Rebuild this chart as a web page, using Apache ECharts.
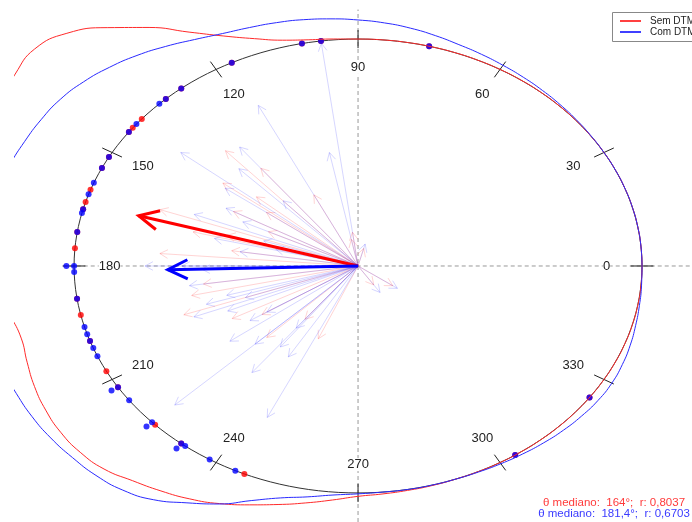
<!DOCTYPE html>
<html>
<head>
<meta charset="utf-8">
<script src="https://cdn.jsdelivr.net/npm/echarts@6/dist/echarts.min.js"></script>
<style>
html, body { margin: 0; padding: 0; background: #fff; }
#main { width: 692px; height: 522px; }
</style>
</head>
<body>
<div id="main"></div>
<script>
// observations (degrees), stack level on the circle, vector length
const blueAngles = [75.5, 97.5, 101.4, 116.4, 128.5, 132.6, 134.4, 141.3, 143.8, 151.3, 154.4, 158.5, 161.6, 165.5, 166.5, 171.4, 180, 180, 181.5, 188.3, 195.6, 197.5, 199.3, 201.2, 203.4, 212.3, 212.3, 216.3, 223.5, 223.5, 231.5, 231.5, 232.5, 238.5, 244.4, 303.6, 324.6]
const blueStack = [0, 0, 0, 0, 0, 0, 0, 0, 0, 0, 0, 0, 0, 0, 0, 0, 0, 1, 0, 0, 0, 0, 0, 0, 0, 0, 1, 0, 0, 1, 0, 1, 0, 0, 0, 0, 0]
const blueLengths = [0.10, 0.99, 0.51, 0.79, 0.67, 0.39, 0.60, 0.80, 0.58, 0.53, 0.45, 0.62, 0.35, 0.30, 0.52, 0.42, 0.75, 0.62, 0.55, 0.60, 0.48, 0.56, 0.42, 0.62, 0.50, 0.45, 0.38, 0.56, 0.89, 0.50, 0.60, 0.35, 0.45, 0.47, 0.74, 0.14, 0.17]

const redAngles = [75.5, 97.5, 101.4, 116.4, 128.5, 132.6, 139.6, 142.5, 143.8, 151.3, 154.4, 160.4, 163.6, 165.5, 171.4, 175.5, 188.3, 192.5, 199.3, 207.6, 212.3, 224.4, 231.5, 246.4, 303.6, 324.6]
const redStack = [0, 0, 0, 0, 0, 0, 0, 0, 0, 0, 0, 0, 0, 0, 0, 0, 0, 0, 0, 0, 0, 0, 0, 0, 0, 0]
const redLengths = [0.08, 0.15, 0.12, 0.35, 0.55, 0.69, 0.47, 0.60, 0.40, 0.50, 0.35, 0.74, 0.48, 0.60, 0.45, 0.70, 0.55, 0.60, 0.65, 0.50, 0.40, 0.45, 0.30, 0.35, 0.10, 0.15]

// median direction and resultant length
const meanAngles = [164, 181.4]
const meanLengths = [0.8037, 0.6703]

// density curves (radius = 1 + density), every 5 degrees
const densAngles = [0, 5, 10, 15, 20, 25, 30, 35, 40, 45, 50, 55, 60, 65, 70, 75, 80, 85, 90, 95, 100, 105, 110, 115, 120, 125, 130, 135, 140, 145, 150, 155, 160, 165, 170, 175, 180, 185, 190, 195, 200, 205, 210, 215, 220, 225, 230, 235, 240, 245, 250, 255, 260, 265, 270, 275, 280, 285, 290, 295, 300, 305, 310, 315, 320, 325, 330, 335, 340, 345, 350, 355, 360]
const redDensity = [1.0, 1.0, 1.0, 1.0, 1.0, 1.0, 1.0, 1.0, 1.0, 1.0, 1.0, 1.0, 1.0, 1.0, 1.0, 1.0, 1.0, 1.0, 1.0, 1.004, 1.012, 1.03, 1.066, 1.118, 1.19, 1.283, 1.371, 1.45, 1.487, 1.474, 1.452, 1.43, 1.41, 1.39, 1.37, 1.345, 1.315, 1.28, 1.245, 1.228, 1.24, 1.257, 1.27, 1.278, 1.277, 1.265, 1.235, 1.21, 1.185, 1.155, 1.12, 1.088, 1.06, 1.035, 1.015, 1.008, 1.004, 1.002, 1.0, 1.0, 1.0, 1.0, 1.0, 1.0, 1.0, 1.0, 1.0, 1.0, 1.0, 1.0, 1.0, 1.0, 1.0]
const blueDensity = [1.0, 1.0, 1.0, 1.0, 1.0, 1.0, 1.0, 1.001, 1.003, 1.006, 1.01, 1.015, 1.021, 1.029, 1.038, 1.051, 1.064, 1.075, 1.084, 1.093, 1.102, 1.11, 1.118, 1.13, 1.152, 1.181, 1.211, 1.238, 1.262, 1.28, 1.289, 1.296, 1.305, 1.315, 1.325, 1.334, 1.341, 1.344, 1.343, 1.338, 1.333, 1.328, 1.326, 1.321, 1.313, 1.305, 1.289, 1.257, 1.205, 1.157, 1.10, 1.058, 1.033, 1.013, 1.004, 1.0, 1.0, 1.0, 1.0, 1.002, 1.006, 1.011, 1.017, 1.023, 1.028, 1.032, 1.032, 1.027, 1.02, 1.012, 1.006, 1.002, 1.0]

const tickAngles = [0, 30, 60, 90, 120, 150, 180, 210, 240, 270, 300, 330]
const tickLabels = ['0', '30', '60', '90', '120', '150', '180', '210', '240', '270', '300', '330']

const FONT = 'Liberation Sans, Arial, Helvetica, sans-serif'
const D2R = Math.PI / 180
function polar (deg, r) {
    return [r * Math.cos(deg * D2R), r * Math.sin(deg * D2R)]
}

function arrowRender (colors, width, head, spread) {
    return function (params, api) {
        let c = api.coord([0, 0])
        let p = api.coord(polar(api.value(0), api.value(1)))
        let a = Math.atan2(p[1] - c[1], p[0] - c[0])
        let h1 = [p[0] - head * Math.cos(a - spread), p[1] - head * Math.sin(a - spread)]
        let h2 = [p[0] - head * Math.cos(a + spread), p[1] - head * Math.sin(a + spread)]
        let color = colors[params.dataIndex % colors.length]
        return {
            type: 'group',
            children: [
                { type: 'line', shape: { x1: c[0], y1: c[1], x2: p[0], y2: p[1] }, style: { stroke: color, lineWidth: width } },
                { type: 'polyline', shape: { points: [h1, p, h2] }, style: { stroke: color, lineWidth: width, fill: null } }
            ]
        }
    }
}

let chart = echarts.init(document.getElementById('main'))
let option = {
    animation: false,
    backgroundColor: '#fff',
    grid: { left: 15, right: 0, top: 0, bottom: 0 },
    xAxis: { type: 'value', min: -1.208, max: 1.176, show: false },
    yAxis: { type: 'value', min: -1.128, max: 1.172, show: false },
    series: [
        {
            // dashed cross through the centre
            type: 'custom',
            z: 1,
            data: [[-1.04, 0, 1.176, 0], [0, -1.128, 0, 1.13]],
            renderItem: function (params, api) {
                let a = api.coord([api.value(0), api.value(1)])
                let b = api.coord([api.value(2), api.value(3)])
                return { type: 'line', shape: { x1: a[0], y1: a[1], x2: b[0], y2: b[1] }, style: { stroke: '#999', lineWidth: 1, lineDash: [4, 3] } }
            }
        },
        {
            type: 'custom',
            z: 2,
            data: redAngles.map((a, i) => [a, redLengths[i]]),
            renderItem: arrowRender(['rgba(255,40,40,0.2)'], 1, 9, 0.5)
        },
        {
            type: 'custom',
            z: 2,
            data: blueAngles.map((a, i) => [a, blueLengths[i]]),
            renderItem: arrowRender(['rgba(50,50,255,0.2)'], 1, 9, 0.5)
        },
        {
            type: 'custom',
            z: 3,
            data: meanAngles.map((a, i) => [a, meanLengths[i]]),
            renderItem: arrowRender(['#ff0000', '#0000ff'], 3, 22, 0.45)
        },
        {
            // unit circle
            type: 'custom',
            z: 4,
            data: [[0, 1]],
            renderItem: function (params, api) {
                let pts = []
                for (let d = 0; d <= 360; d += 2) pts.push(api.coord(polar(d, api.value(1))))
                return { type: 'polyline', shape: { points: pts }, style: { stroke: '#333', lineWidth: 1, fill: null } }
            }
        },
        {
            // ticks and angle labels
            type: 'custom',
            z: 4,
            data: tickAngles.map((a, i) => [a, i]),
            renderItem: function (params, api) {
                let ang = api.value(0)
                let p1 = api.coord(polar(ang, 0.96))
                let p2 = api.coord(polar(ang, 1.04))
                let pl = api.coord(polar(ang, 0.875))
                return {
                    type: 'group',
                    children: [
                        { type: 'line', shape: { x1: p1[0], y1: p1[1], x2: p2[0], y2: p2[1] }, style: { stroke: '#222', lineWidth: 1 } },
                        { type: 'text', x: pl[0], y: pl[1], style: { text: tickLabels[params.dataIndex], fill: '#222', font: '13px ' + FONT, align: 'center', verticalAlign: 'middle', backgroundColor: ang % 90 === 0 ? '#fff' : null } }
                    ]
                }
            }
        },
        {
            name: 'Sem DTM pts',
            type: 'scatter',
            z: 5,
            symbolSize: 6,
            itemStyle: { color: '#ff0000' },
            data: redAngles.map((a, i) => polar(a, 1 + 0.027 * redStack[i]))
        },
        {
            name: 'Com DTM pts',
            type: 'scatter',
            z: 6,
            symbolSize: 6,
            itemStyle: { color: '#0000ff' },
            data: blueAngles.map((a, i) => polar(a, 1 + 0.027 * blueStack[i]))
        },
        {
            name: 'Sem DTM',
            type: 'line',
            z: 7,
            smooth: 0.5,
            symbol: 'none',
            clip: true,
            lineStyle: { color: '#ff2a2a', width: 1 },
            data: densAngles.map((a, i) => polar(a, redDensity[i]))
        },
        {
            name: 'Com DTM',
            type: 'line',
            z: 7,
            smooth: 0.5,
            symbol: 'none',
            clip: true,
            lineStyle: { color: '#2a2aff', width: 1 },
            data: densAngles.map((a, i) => polar(a, blueDensity[i]))
        }
    ],
    graphic: [
        { type: 'rect', left: 612, top: 12, shape: { width: 100, height: 29 }, style: { fill: '#fff', stroke: '#888', lineWidth: 1 }, z: 20 },
        { type: 'line', shape: { x1: 620, y1: 21, x2: 641, y2: 21 }, style: { stroke: '#ff0000', lineWidth: 1.5 }, z: 21 },
        { type: 'line', shape: { x1: 620, y1: 32, x2: 641, y2: 32 }, style: { stroke: '#0000ff', lineWidth: 1.5 }, z: 21 },
        { type: 'text', x: 650, y: 21, style: { text: 'Sem DTM', fill: '#222', font: '10px ' + FONT, verticalAlign: 'middle' }, z: 21 },
        { type: 'text', x: 650, y: 32, style: { text: 'Com DTM', fill: '#222', font: '10px ' + FONT, verticalAlign: 'middle' }, z: 21 },
        { type: 'text', x: 614, y: 503, style: { text: 'θ mediano:  ' + meanAngles[0] + '°;  r: ' + String(meanLengths[0]).replace('.', ','), fill: '#ff3a3a', font: '11.5px ' + FONT, align: 'center', verticalAlign: 'middle' }, z: 21 },
        { type: 'text', x: 614, y: 514, style: { text: 'θ mediano:  ' + String(meanAngles[1]).replace('.', ',') + '°;  r: ' + String(meanLengths[1]).replace('.', ','), fill: '#3a3aff', font: '11.5px ' + FONT, align: 'center', verticalAlign: 'middle' }, z: 21 }
    ]
}
chart.setOption(option)
</script>
</body>
</html>
